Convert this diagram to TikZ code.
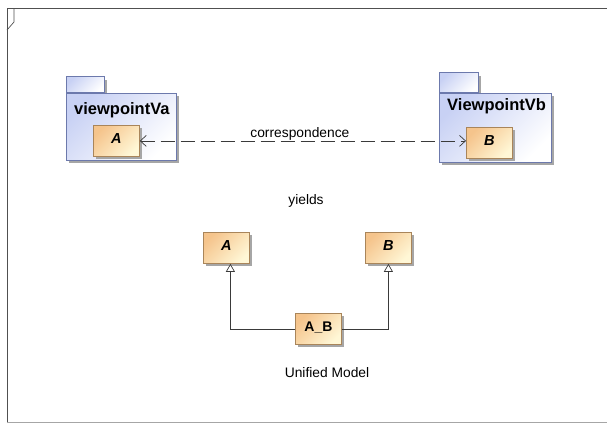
\documentclass[tikz,border=0pt]{standalone}
\usepackage{fontspec}
\setmainfont{Liberation Sans}
\usetikzlibrary{arrows.meta,calc,shadows}

\definecolor{pkgline}{HTML}{6C79AC}
\definecolor{pkgfill}{HTML}{C8D1F4}
\definecolor{clsline}{HTML}{A9855A}
\definecolor{clsdark}{HTML}{F5C48C}
\definecolor{clslight}{HTML}{FFF7D6}
\definecolor{shadowgray}{HTML}{A6A6A6}
\definecolor{framecol}{HTML}{505050}
\definecolor{linecol}{HTML}{3A3A3A}

\tikzset{
  softshadow/.style={drop shadow={shadow xshift=3pt, shadow yshift=-3pt, fill=shadowgray, opacity=1}},
  pkgbox/.style={softshadow, draw=pkgline, line width=0.8pt, top color=pkgfill, bottom color=white,
    shading angle=45, inner sep=0pt},
  pkgname/.style={font=\fontsize{16.5}{19}\selectfont\bfseries, anchor=west, inner sep=0pt},
  clsbox/.style={softshadow, draw=clsline, line width=0.8pt, top color=clsdark, bottom color=clslight,
    shading angle=45, inner sep=0pt, minimum width=46pt, minimum height=31pt,
    font=\fontsize{14.5}{17}\selectfont\bfseries\itshape, text height=10.5pt, text depth=5.5pt},
  upright/.style={font=\fontsize{14}{17}\selectfont\bfseries},
  plain/.style={font=\fontsize{13.8}{16}\selectfont, inner sep=0pt},
  corr/.style={draw=linecol, line width=0.7pt, dash pattern=on 14pt off 6pt,
    {Straight Barb[length=6pt,width=11pt]}-{Straight Barb[length=6pt,width=11pt]}},
  gen/.style={draw=linecol, line width=0.7pt, -{Triangle[open,length=8pt,width=9pt,fill=white]}},
}

\begin{document}
\begin{tikzpicture}[x=1pt,y=-1pt]
  \useasboundingbox (0,0) rectangle (607,423);

  % diagram frame with its empty name tab
  \draw[framecol, line width=0.8pt] (7,423) -- (7,8) -- (607,8);
  \draw[shadowgray, line width=0.8pt] (7,422) -- (607,422);
  \draw[framecol, line width=0.7pt] (14,8) -- (14,22) -- (7,30);

  % package viewpointVa
  \node[pkgbox, minimum width=38pt, minimum height=16pt, anchor=south west] (vaTab) at (66,93) {};
  \node[pkgbox, minimum width=110pt, minimum height=67pt, anchor=north west] (vaBody) at (66,93) {};
  \node[pkgname] (vaName) at (74,110) {viewpointVa};
  \node[clsbox, anchor=north west] (clsA) at (93,125) {A};

  % package ViewpointVb
  \node[pkgbox, minimum width=39pt, minimum height=20pt, anchor=south west] (vbTab) at (439,93) {};
  \node[pkgbox, minimum width=112pt, minimum height=69pt, anchor=north west] (vbBody) at (439,93) {};
  \node[pkgname] (vbName) at (447,106) {ViewpointVb};
  \node[clsbox, anchor=north west] (clsB) at (466,127) {B};

  % correspondence between A and B
  \draw[corr] (clsA.east) -- (clsA.east -| clsB.west)
    node[plain, midway, above=0.5pt, xshift=-3pt] (corrLabel) {correspondence};

  \node[plain] (yields) at (306,201) {yields};

  % unified model
  \node[clsbox, anchor=north west] (uniA) at (203,232) {A};
  \node[clsbox, anchor=north west] (uniB) at (365,232) {B};
  \node[clsbox, upright, anchor=north west] (uniAB) at (295,313) {A\_B};

  \draw[gen] (uniAB.west) -| ($(uniA.south)+(4,0)$);
  \draw[gen] (uniAB.east) -| (uniB.south);

  \node[plain] (unified) at (327,373) {Unified Model};
\end{tikzpicture}
\end{document}
